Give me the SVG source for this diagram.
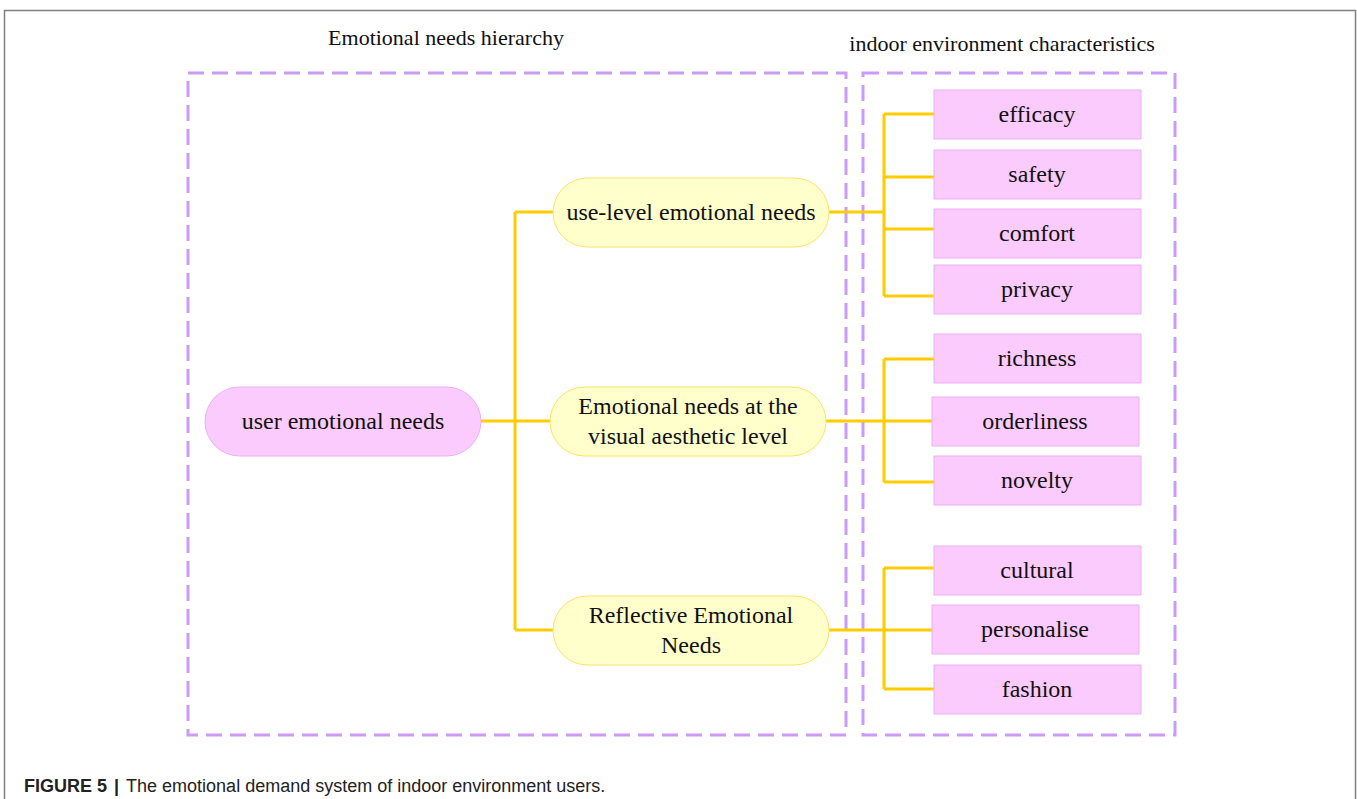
<svg xmlns="http://www.w3.org/2000/svg" width="1357" height="799" viewBox="0 0 1357 799">
<style>
.t{font-family:"Liberation Serif",serif;font-size:24px;fill:#111;text-anchor:middle}
.h{font-family:"Liberation Serif",serif;font-size:22px;fill:#111;text-anchor:middle}
.box{fill:none;stroke:#c99cf7;stroke-width:3;stroke-dasharray:16 8}
.pk{fill:#fbcbfd;stroke:#ebb0f3;stroke-width:1}
.yl{fill:#ffffcc;stroke:#ffe066;stroke-width:1}
.c{fill:none;stroke:#ffcc00;stroke-width:3}
</style>
<rect width="1357" height="799" fill="#fff"/>
<path d="M4.5 799 V10.5 H1355.5 V799" fill="none" stroke="#808080" stroke-width="1.5"/>
<text class="h" x="446" y="45">Emotional needs hierarchy</text>
<text class="h" x="1002" y="51">indoor environment characteristics</text>
<rect class="box" x="188" y="73" width="658" height="662"/>
<rect class="box" x="863" y="73" width="312" height="662"/>
<g id="connectors">
<path class="c" d="M481 421 H515 M515 212 V630 M515 212 H553 M515 421 H550 M515 630 H553"/>
<path class="c" d="M829 212 H884 M884 114 V296 M884 114 H934 M884 177 H934 M884 229 H934 M884 296 H934"/>
<path class="c" d="M826 421 H932 M884 359 V482 M884 359 H934 M884 482 H934"/>
<path class="c" d="M829 630 H932 M884 568 V689 M884 568 H934 M884 689 H934"/>
</g>
<g id="user"><rect class="pk" x="205" y="387" width="276" height="69" rx="34.5"/><text class="t" x="343" y="429">user emotional needs</text></g>
<g id="use-level"><rect class="yl" x="553" y="178" width="276" height="69" rx="34.5"/><text class="t" x="691" y="220">use-level emotional needs</text></g>
<g id="visual"><rect class="yl" x="550" y="387" width="276" height="69" rx="34.5"/><text class="t" x="688" y="414">Emotional needs at the</text><text class="t" x="688" y="444">visual aesthetic level</text></g>
<g id="reflective"><rect class="yl" x="553" y="596" width="276" height="69" rx="34.5"/><text class="t" x="691" y="623">Reflective Emotional</text><text class="t" x="691" y="653">Needs</text></g>
<g id="efficacy"><rect class="pk" x="934" y="90" width="207" height="49"/><text class="t" x="1037" y="122">efficacy</text></g>
<g id="safety"><rect class="pk" x="934" y="150" width="207" height="49"/><text class="t" x="1037" y="182">safety</text></g>
<g id="comfort"><rect class="pk" x="934" y="209" width="207" height="49"/><text class="t" x="1037" y="241">comfort</text></g>
<g id="privacy"><rect class="pk" x="934" y="265" width="207" height="49"/><text class="t" x="1037" y="297">privacy</text></g>
<g id="richness"><rect class="pk" x="934" y="334" width="207" height="49"/><text class="t" x="1037" y="366">richness</text></g>
<g id="orderliness"><rect class="pk" x="932" y="397" width="207" height="49"/><text class="t" x="1035" y="429">orderliness</text></g>
<g id="novelty"><rect class="pk" x="934" y="456" width="207" height="49"/><text class="t" x="1037" y="488">novelty</text></g>
<g id="cultural"><rect class="pk" x="934" y="546" width="207" height="49"/><text class="t" x="1037" y="578">cultural</text></g>
<g id="personalise"><rect class="pk" x="932" y="605" width="207" height="49"/><text class="t" x="1035" y="637">personalise</text></g>
<g id="fashion"><rect class="pk" x="934" y="665" width="207" height="49"/><text class="t" x="1037" y="697">fashion</text></g>
<text x="24" y="792" style="font-family:'Liberation Sans',sans-serif;font-size:18px;fill:#222"><tspan font-weight="bold">FIGURE 5</tspan><tspan dx="7" font-weight="bold">|</tspan><tspan dx="7">The emotional demand system of indoor environment users.</tspan></text>
</svg>
